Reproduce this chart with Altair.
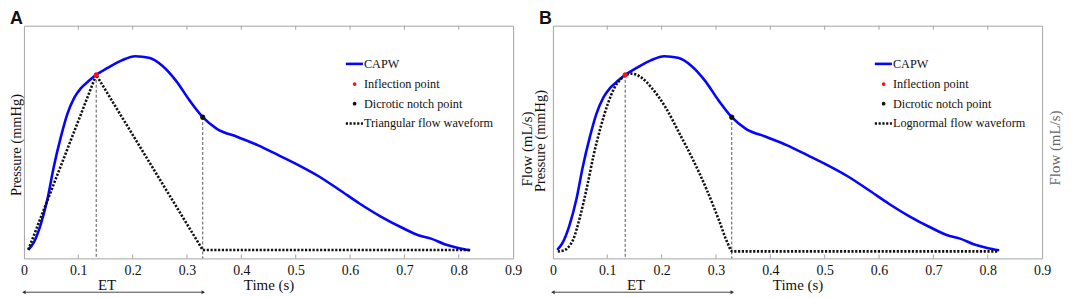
import altair as alt
import pandas as pd

# ---------------- data ----------------
CAPW_T = [0.008, 0.018, 0.03, 0.043, 0.055, 0.068, 0.08, 0.093, 0.105, 0.118, 0.133,
          0.155, 0.18, 0.205, 0.23, 0.255, 0.28, 0.305, 0.329, 0.355, 0.393, 0.43,
          0.468, 0.505, 0.543, 0.58, 0.618, 0.655, 0.693, 0.73, 0.749, 0.774, 0.799, 0.821]
CAPW_P = [3.7, 6.8, 13.9, 25.2, 39.4, 52.2, 62.1, 69.2, 73.2, 76.0, 78.9,
          82.0, 85.1, 86.9, 86.2, 82.7, 76.3, 67.8, 60.7, 55.7, 52.2, 48.7,
          44.4, 40.1, 35.2, 29.5, 23.5, 18.2, 13.5, 9.6, 8.5, 6.1, 4.5, 3.5]

TRI_T = [0.008, 0.133, 0.329, 0.821]
TRI_F = [3.7, 78.9, 3.6, 3.6]

LOGN_T = [0.009, 0.02, 0.03, 0.038, 0.05, 0.063, 0.075, 0.088, 0.101, 0.113, 0.126,
          0.145, 0.163, 0.182, 0.207, 0.233, 0.258, 0.283, 0.305, 0.321, 0.33, 0.82]
LOGN_F = [3.0, 3.4, 5.2, 8.5, 18.0, 31.0, 44.5, 56.5, 66.4, 73.2, 77.3,
          79.4, 77.7, 73.2, 65.0, 53.6, 42.3, 29.5, 16.7, 6.8, 3.0, 3.0]

INFLECTION_T, INFLECTION_P = 0.133, 78.9
NOTCH_T, NOTCH_P = 0.329, 60.7

X_LABELS = [0, 0.1, 0.2, 0.3, 0.4, 0.5, 0.6, 0.7, 0.8, 0.9]
X_INNER_TICKS = [0.1, 0.2, 0.3, 0.4, 0.5, 0.6, 0.7, 0.8]
ET_START, ET_END, ET_LABEL_T = 0.0, 0.33, 0.153

LEGEND_LABELS_A = ["CAPW", "Inflection point", "Dicrotic notch point", "Triangular flow waveform"]
LEGEND_LABELS_B = ["CAPW", "Inflection point", "Dicrotic notch point", "Lognormal flow waveform"]

# ---------------- layout ----------------
W, H = 492, 234
SERIF = "Liberation Serif, Times New Roman, serif"
BLUE = "#0505ff"
FRAME = "#a3a3a3"
DASH_DOT = [2.2, 1.6]

xs = alt.Scale(domain=[0, 0.9], nice=False, zero=False)
ys = alt.Scale(domain=[0, 100], nice=False, zero=True)

X = alt.X("t:Q", scale=xs,
          axis=alt.Axis(values=X_LABELS, format=".1~f", ticks=False, domain=False, grid=False,
                        labelFont=SERIF, labelFontSize=14, labelColor="#111", labelPadding=5,
                        labelFlush=False, labelOverlap=False,
                        title="Time (s)", titleFont=SERIF, titleFontSize=15,
                        titleFontWeight="normal", titleColor="#111", titlePadding=0))
Y = alt.Y("v:Q", scale=ys, axis=None)


def text_mark(label, x, y, **kw):
    return alt.Chart(pd.DataFrame({"label": [label]})).mark_text(**kw).encode(
        text="label:N", x=alt.value(x), y=alt.value(y))


def panel(letter, flow_t, flow_v, legend_labels, left_titles, right_title):
    capw = pd.DataFrame({"t": CAPW_T, "v": CAPW_P})
    flow = pd.DataFrame({"t": flow_t, "v": flow_v})
    pts = pd.DataFrame({"t": [INFLECTION_T, NOTCH_T], "v": [INFLECTION_P, NOTCH_P],
                        "kind": ["Inflection point", "Dicrotic notch point"]})
    ticks = pd.DataFrame({"t": X_INNER_TICKS})

    layers = []
    # dashed drop lines
    layers.append(alt.Chart(pts).mark_rule(color="#555", strokeWidth=1, strokeDash=[3, 2]).encode(
        x=X, y=Y, y2=alt.datum(0)))
    # CAPW
    layers.append(alt.Chart(capw).mark_line(color=BLUE, strokeWidth=2.6, interpolate="monotone").encode(
        x=X, y=Y))
    # flow waveform
    interp = "linear" if len(flow_t) < 6 else "monotone"
    layers.append(alt.Chart(flow).mark_line(color="#111", strokeWidth=2.6, strokeDash=DASH_DOT,
                                            strokeCap="butt", interpolate=interp).encode(x=X, y=Y))
    # points
    layers.append(alt.Chart(pts).mark_point(filled=True, size=26, opacity=1).encode(
        x=X, y=Y,
        color=alt.Color("kind:N", scale=alt.Scale(domain=["Inflection point", "Dicrotic notch point"],
                                                  range=["#ff1010", "#111111"]), legend=None)))
    # inner ticks (top and bottom)
    layers.append(alt.Chart(ticks).mark_rule(color=FRAME, strokeWidth=1).encode(
        x=X, y=alt.value(H), y2=alt.value(H - 4)))
    layers.append(alt.Chart(ticks).mark_rule(color=FRAME, strokeWidth=1).encode(
        x=X, y=alt.value(0), y2=alt.value(4)))

    # legend (drawn inside the plot)
    lx0, lx1, ldot, ltxt = 0.658 * W, 0.693 * W, 0.676 * W, 0.695 * W
    ly = [0.164 * H, 0.251 * H, 0.335 * H, 0.420 * H]
    leg_line = pd.DataFrame({"a": [0]})
    layers.append(alt.Chart(leg_line).mark_rule(color=BLUE, strokeWidth=2.6).encode(
        x=alt.value(lx0), x2=alt.value(lx1), y=alt.value(ly[0])))
    layers.append(alt.Chart(leg_line).mark_point(filled=True, size=14, opacity=1, color="#ff1010").encode(
        x=alt.value(ldot), y=alt.value(ly[1])))
    layers.append(alt.Chart(leg_line).mark_point(filled=True, size=14, opacity=1, color="#111").encode(
        x=alt.value(ldot), y=alt.value(ly[2])))
    layers.append(alt.Chart(leg_line).mark_rule(color="#111", strokeWidth=2.4, strokeDash=DASH_DOT,
                                                strokeCap="butt").encode(
        x=alt.value(lx0), x2=alt.value(lx1), y=alt.value(ly[3])))
    for lab, yy in zip(legend_labels, ly):
        layers.append(text_mark(lab, ltxt, yy, font=SERIF, fontSize=12.3, align="left",
                                baseline="middle", color="#111"))

    # ET arrow
    et = pd.DataFrame({"t": [ET_START], "t2": [ET_END]})
    layers.append(alt.Chart(et).mark_rule(color="#333", strokeWidth=0.9).encode(
        x=X, x2="t2:Q", y=alt.value(H + 34)))
    heads = pd.DataFrame({"t": [ET_START, ET_END], "shape": ["triangle-left", "triangle-right"]})
    layers.append(alt.Chart(heads).mark_point(filled=True, size=16, opacity=1, color="#333").encode(
        x=X, y=alt.value(H + 34),
        shape=alt.Shape("shape:N", scale=None)))
    etlab = pd.DataFrame({"t": [ET_LABEL_T], "label": ["ET"]})
    layers.append(alt.Chart(etlab).mark_text(font=SERIF, fontSize=15, color="#111", baseline="middle").encode(
        x=X, y=alt.value(H + 27), text="label:N"))

    # axis titles as text
    for lab, xx, yy, col, fs in left_titles:
        layers.append(text_mark(lab, xx, yy, font=SERIF, fontSize=fs, angle=270, align="center",
                                baseline="middle", color=col))
    if right_title:
        lab, xx, yy, col, fs = right_title
        layers.append(text_mark(lab, xx, yy, font=SERIF, fontSize=fs, angle=270, align="center",
                                baseline="middle", color=col))

    # panel letter
    layers.append(text_mark(letter, -14, -16, font="Liberation Sans", fontWeight="bold", fontSize=18,
                            align="left", baseline="top", color="#111"))

    return alt.layer(*layers).properties(width=W, height=H)


panel_a = panel("A", TRI_T, TRI_F, LEGEND_LABELS_A,
                [("Pressure (mmHg)", -6.5, 120, "#111", 14.5)], None)
panel_b = panel("B", LOGN_T, LOGN_F, LEGEND_LABELS_B,
                [("Flow (mL/s)", -26, 124, "#111", 15), ("Pressure (mmHg)", -11.5, 116, "#111", 14.5)],
                ("Flow (mL/s)", W + 13, 123, "#666", 15))

chart = alt.hconcat(panel_a, panel_b, spacing=40, bounds="flush").properties(
    padding=0
).configure_view(stroke=FRAME, strokeWidth=1)

chart.save("out.html", embed_options={"renderer": "svg", "actions": False})
